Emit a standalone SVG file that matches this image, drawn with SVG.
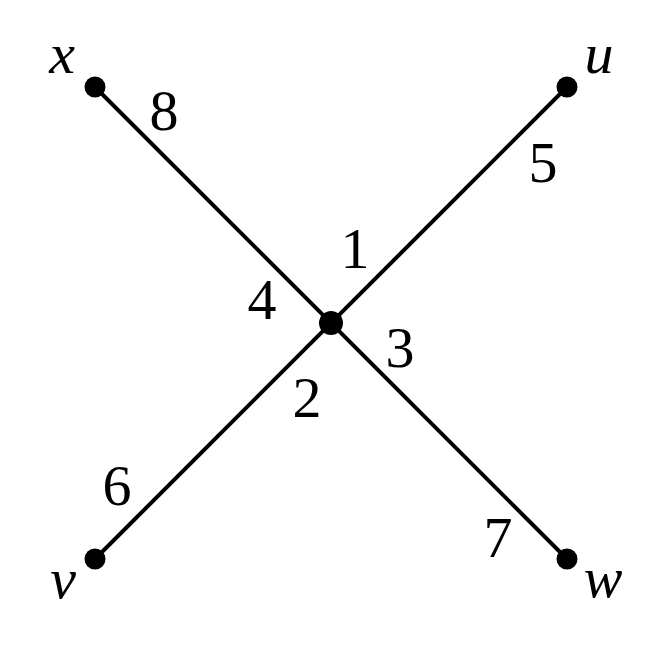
<svg xmlns="http://www.w3.org/2000/svg" width="672" height="647" viewBox="0 0 672 647">
<style>
.edge{stroke:#000;stroke-width:4;fill:none}
.dot{fill:#000}
.num{font-family:"Liberation Serif","Times New Roman",serif;font-size:58px;fill:#000;text-anchor:middle}
.var{font-family:"Liberation Serif","Times New Roman",serif;font-size:58px;font-style:italic;fill:#000;text-anchor:middle}
</style>
<rect width="672" height="647" fill="#fff"/>
<g id="connectors">
<line class="edge" x1="95" y1="87" x2="567" y2="559"/>
<line class="edge" x1="567" y1="87" x2="95" y2="559"/>
</g>
<g id="edge-labels">
<text class="num" x="164" y="130">8</text>
<text class="num" x="543" y="182">5</text>
<text class="num" x="355" y="268">1</text>
<text class="num" x="262" y="319">4</text>
<text class="num" x="400" y="367">3</text>
<text class="num" x="307" y="417">2</text>
<text class="num" x="117" y="505">6</text>
<text class="num" x="498" y="557">7</text>
</g>
<g id="node-center"><circle class="dot" cx="331" cy="323" r="12"/></g>
<g id="node-x"><circle class="dot" cx="95" cy="87" r="10.5"/><text class="var" x="62" y="73">x</text></g>
<g id="node-u"><circle class="dot" cx="567" cy="87" r="10.5"/><text class="var" x="599" y="73">u</text></g>
<g id="node-v"><circle class="dot" cx="95" cy="559" r="10.5"/><text class="var" x="63" y="598">v</text></g>
<g id="node-w"><circle class="dot" cx="567" cy="559" r="10.5"/><text class="var" x="603" y="597">w</text></g>
</svg>
